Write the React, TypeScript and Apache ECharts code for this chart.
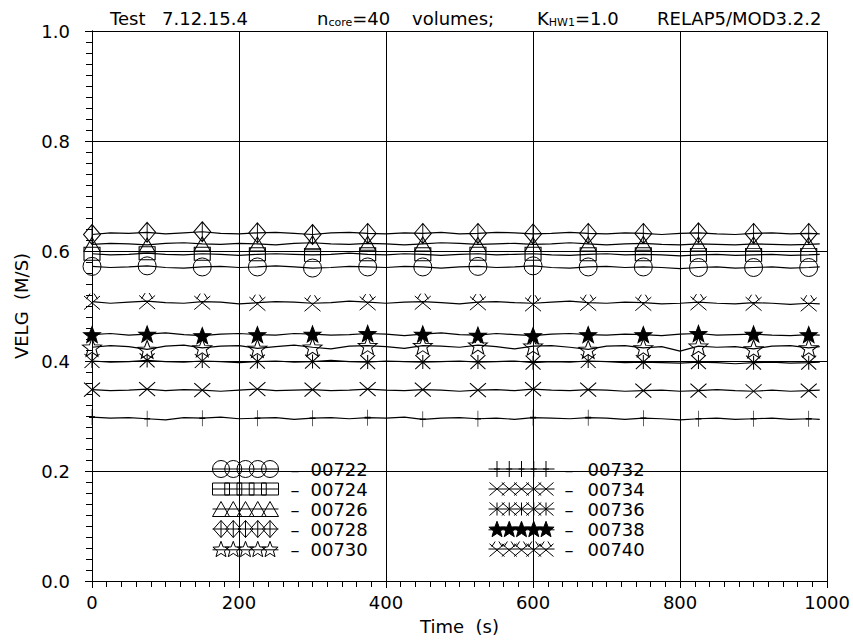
import React, { useEffect, useRef } from "react";
import * as echarts from "echarts";

// ---------- DATA ----------
const times = [0, 25, 50, 75, 100, 125, 150, 175, 200, 225, 250, 275, 300, 325, 350, 375, 400, 425, 450, 475, 500, 525, 550, 575, 600, 625, 650, 675, 700, 725, 750, 775, 800, 825, 850, 875, 900, 925, 950, 975, 990];

const seriesNames = ["00722", "00724", "00726", "00728", "00730", "00732", "00734", "00736", "00738", "00740"];

const v00722 = [
  0.572, 0.570, 0.571, 0.573, 0.570, 0.569, 0.571, 0.572, 0.570, 0.571,
  0.573, 0.571, 0.569, 0.570, 0.572, 0.571, 0.570, 0.572, 0.571, 0.569,
  0.571, 0.572, 0.570, 0.571, 0.573, 0.570, 0.569, 0.571, 0.572, 0.570,
  0.571, 0.570, 0.568, 0.570, 0.571, 0.569, 0.570, 0.571, 0.569, 0.570,
  0.571,
];
const v00724 = [
  0.595, 0.593, 0.594, 0.596, 0.594, 0.593, 0.595, 0.594, 0.592, 0.594,
  0.595, 0.594, 0.593, 0.594, 0.596, 0.594, 0.593, 0.595, 0.594, 0.592,
  0.594, 0.595, 0.593, 0.594, 0.595, 0.593, 0.592, 0.594, 0.595, 0.593,
  0.594, 0.593, 0.591, 0.593, 0.594, 0.592, 0.593, 0.594, 0.592, 0.593,
  0.594,
];
const v00726 = [
  0.612, 0.614, 0.613, 0.611, 0.614, 0.615, 0.613, 0.612, 0.614, 0.613,
  0.611, 0.614, 0.615, 0.613, 0.612, 0.614, 0.613, 0.611, 0.613, 0.615,
  0.614, 0.612, 0.613, 0.614, 0.612, 0.613, 0.615, 0.613, 0.611, 0.613,
  0.614, 0.612, 0.611, 0.613, 0.612, 0.611, 0.613, 0.612, 0.611, 0.612,
  0.613,
];
const v00728 = [
  0.630, 0.633, 0.632, 0.634, 0.631, 0.633, 0.635, 0.632, 0.631, 0.633,
  0.634, 0.632, 0.630, 0.633, 0.634, 0.632, 0.631, 0.633, 0.632, 0.634,
  0.631, 0.632, 0.634, 0.633, 0.631, 0.632, 0.634, 0.632, 0.631, 0.633,
  0.632, 0.630, 0.632, 0.633, 0.631, 0.630, 0.632, 0.633, 0.631, 0.632,
  0.631,
];
const v00730 = [
  0.425, 0.428, 0.426, 0.421, 0.427, 0.429, 0.424, 0.427, 0.428, 0.423,
  0.426, 0.429, 0.425, 0.422, 0.427, 0.428, 0.426, 0.423, 0.428, 0.427,
  0.425, 0.429, 0.426, 0.422, 0.427, 0.428, 0.425, 0.421, 0.427, 0.428,
  0.424, 0.426, 0.418, 0.427, 0.425, 0.426, 0.422, 0.427, 0.428, 0.424,
  0.426,
];
const v00732 = [
  0.298, 0.296, 0.297, 0.295, 0.293, 0.297, 0.296, 0.298, 0.295, 0.296,
  0.297, 0.294, 0.296, 0.297, 0.295, 0.297, 0.296, 0.298, 0.294, 0.296,
  0.297, 0.295, 0.296, 0.294, 0.297, 0.296, 0.295, 0.297, 0.296, 0.294,
  0.296, 0.295, 0.293, 0.295, 0.296, 0.294, 0.295, 0.296, 0.294, 0.295,
  0.294,
];
const v00734 = [
  0.348, 0.346, 0.347, 0.349, 0.346, 0.348, 0.347, 0.345, 0.347, 0.349,
  0.346, 0.347, 0.348, 0.346, 0.347, 0.349, 0.347, 0.346, 0.348, 0.347,
  0.345, 0.347, 0.348, 0.346, 0.349, 0.347, 0.346, 0.348, 0.347, 0.345,
  0.346, 0.347, 0.345, 0.346, 0.348, 0.346, 0.345, 0.347, 0.345, 0.346,
  0.347,
];
const v00736 = [
  0.400, 0.398, 0.399, 0.401, 0.399, 0.398, 0.400, 0.399, 0.397, 0.399,
  0.400, 0.398, 0.399, 0.401, 0.399, 0.398, 0.400, 0.399, 0.398, 0.399,
  0.400, 0.398, 0.399, 0.400, 0.397, 0.399, 0.398, 0.400, 0.399, 0.397,
  0.398, 0.397, 0.396, 0.398, 0.397, 0.395, 0.397, 0.398, 0.396, 0.397,
  0.398,
];
const v00738 = [
  0.448, 0.450, 0.447, 0.449, 0.451, 0.448, 0.446, 0.449, 0.450, 0.448,
  0.447, 0.450, 0.449, 0.447, 0.448, 0.450, 0.449, 0.446, 0.449, 0.451,
  0.448, 0.447, 0.450, 0.448, 0.446, 0.449, 0.450, 0.448, 0.447, 0.449,
  0.448, 0.446, 0.449, 0.450, 0.447, 0.448, 0.449, 0.447, 0.446, 0.448,
  0.447,
];
const v00740 = [
  0.508, 0.505, 0.507, 0.509, 0.506, 0.505, 0.508, 0.507, 0.504, 0.506,
  0.508, 0.507, 0.505, 0.506, 0.509, 0.507, 0.505, 0.507, 0.508, 0.506,
  0.504, 0.507, 0.508, 0.506, 0.505, 0.507, 0.509, 0.506, 0.505, 0.507,
  0.506, 0.504, 0.505, 0.507, 0.505, 0.504, 0.506, 0.505, 0.503, 0.505,
  0.504,
];

const seriesValues = [v00722, v00724, v00726, v00728, v00730, v00732, v00734, v00736, v00738, v00740];

const xTicks = [0, 200, 400, 600, 800, 1000];
const yTicks = [0, 0.2, 0.4, 0.6, 0.8, 1.0];

// ---------- STYLE / SYMBOLS ----------
const FONT = "DejaVu Sans";
const f = (n: number) => n.toFixed(2);

type Gen = (cx: number, cy: number, rx: number, ry: number) => string;

const gCircle: Gen = (cx, cy, rx, ry) =>
  `M${f(cx + rx)},${f(cy)}A${f(rx)},${f(ry)},0,1,1,${f(cx - rx)},${f(cy)}A${f(rx)},${f(ry)},0,1,1,${f(cx + rx)},${f(cy)}Z`;
const gRect: Gen = (cx, cy, rx, ry) =>
  `M${f(cx - rx)},${f(cy - ry)}L${f(cx + rx)},${f(cy - ry)}L${f(cx + rx)},${f(cy + ry)}L${f(cx - rx)},${f(cy + ry)}Z`;
const gTri: Gen = (cx, cy, rx, ry) =>
  `M${f(cx)},${f(cy - ry)}L${f(cx + rx)},${f(cy + ry)}L${f(cx - rx)},${f(cy + ry)}Z`;
const gDiamond: Gen = (cx, cy, rx, ry) =>
  `M${f(cx)},${f(cy - ry)}L${f(cx + rx)},${f(cy)}L${f(cx)},${f(cy + ry)}L${f(cx - rx)},${f(cy)}ZM${f(cx)},${f(cy - ry)}L${f(cx)},${f(cy + ry)}`;
const gStar: Gen = (cx, cy, rx, ry) => {
  let d = "";
  for (let i = 0; i < 10; i++) {
    const a = -Math.PI / 2 + (i * Math.PI) / 5;
    const r = i % 2 === 0 ? 1 : 0.42;
    d += (i === 0 ? "M" : "L") + f(cx + rx * r * Math.cos(a)) + "," + f(cy + ry * r * Math.sin(a));
  }
  return d + "Z";
};
const gPlus: Gen = (cx, cy, rx, ry) =>
  `M${f(cx)},${f(cy - ry)}L${f(cx)},${f(cy + ry)}M${f(cx - rx)},${f(cy)}L${f(cx + rx)},${f(cy)}`;
const gX: Gen = (cx, cy, rx, ry) =>
  `M${f(cx - rx)},${f(cy - ry)}L${f(cx + rx)},${f(cy + ry)}M${f(cx - rx)},${f(cy + ry)}L${f(cx + rx)},${f(cy - ry)}`;
const gAst: Gen = (cx, cy, rx, ry) =>
  gX(cx, cy, rx, ry) + `M${f(cx)},${f(cy - ry)}L${f(cx)},${f(cy + ry)}`;
const gXHat: Gen = (cx, cy, rx, ry) =>
  gX(cx, cy + ry * 0.15, rx, ry * 0.85) +
  `M${f(cx - rx * 0.7)},${f(cy - ry * 0.3)}L${f(cx - rx * 0.25)},${f(cy - ry)}M${f(cx + rx * 0.7)},${f(cy - ry * 0.3)}L${f(cx + rx * 0.25)},${f(cy - ry)}`;

interface SymDef { gen: Gen; size: [number, number]; leg: [number, number]; filled: boolean }
const symDefs: SymDef[] = [
  { gen: gCircle, size: [18, 18], leg: [8.5, 8.5], filled: false },
  { gen: gRect, size: [16, 13], leg: [8.5, 6], filled: false },
  { gen: gTri, size: [16, 14], leg: [8.5, 7.5], filled: false },
  { gen: gDiamond, size: [17, 20], leg: [7.5, 8.5], filled: false },
  { gen: gStar, size: [19, 18], leg: [8.5, 8.5], filled: false },
  { gen: gPlus, size: [6, 16], leg: [3, 8], filled: false },
  { gen: gX, size: [16, 14], leg: [7.5, 6.5], filled: false },
  { gen: gAst, size: [15, 14], leg: [7.5, 6.5], filled: false },
  { gen: gStar, size: [17, 16], leg: [8.5, 8.5], filled: true },
  { gen: gXHat, size: [16, 16], leg: [7.5, 7.5], filled: false },
];

const LEG_W = 66;
const LEG_H = 17;
const legendIcon = (d: SymDef) => {
  let p = `M0,${LEG_H / 2}L${LEG_W},${LEG_H / 2}`;
  const step = (LEG_W - 17) / 4;
  for (let i = 0; i < 5; i++) p += d.gen(8.5 + i * step, LEG_H / 2, d.leg[0], d.leg[1]);
  return "path://" + p;
};

export default function App() {
  const ref = useRef<HTMLDivElement>(null);

  useEffect(() => {
    document.body.style.margin = "0";
    const chart = echarts.init(ref.current!, null, { renderer: "svg" });

    const series = seriesNames.map((name, k) => {
      const def = symDefs[k];
      const sym = "path://" + def.gen(0, 0, 1, 1);
      return {
        name,
        type: "line",
        data: times.map((t, i) => [t, seriesValues[k][i]]),
        symbol: (_v: any, p: any) => (p.dataIndex % 3 === 0 ? sym : "none"),
        symbolSize: def.size,
        showAllSymbol: true,
        lineStyle: { color: "#000", width: 1.2 },
        itemStyle: { color: def.filled ? "#000" : "transparent", borderColor: "#000", borderWidth: 1 },
        emphasis: { disabled: true },
        silent: true,
        z: 3,
      };
    });

    const legendItem = (k: number) => ({
      name: seriesNames[k],
      icon: legendIcon(symDefs[k]),
      itemStyle: { color: symDefs[k].filled ? "#000" : "transparent", borderColor: "#000", borderWidth: 1 },
    });

    const titleStyle = { fontFamily: FONT, fontSize: 18, fontWeight: "normal" as const, color: "#000", lineHeight: 20 };
    const subRich = { s: { fontFamily: FONT, fontSize: 11, color: "#000", lineHeight: 10, verticalAlign: "bottom" } };
    const T = 8;

    const mainTicks = {
      axisLine: { show: true, lineStyle: { color: "#000", width: 1 } },
      axisTick: { show: true, inside: false, length: 7, lineStyle: { color: "#000" } },
      minorTick: { show: true, splitNumber: 10, length: 6, lineStyle: { color: "#000" } },
    };
    const mirrorTicks = {
      axisLine: { show: true, lineStyle: { color: "#000", width: 1 } },
      axisTick: { show: false, inside: true },
      minorTick: { show: true, splitNumber: 10, length: 3, lineStyle: { color: "#000" } },
      axisLabel: { show: false },
      splitLine: { show: false },
    };

    chart.setOption({
      animation: false,
      backgroundColor: "#fff",
      title: [
        { text: "Test", left: 110, top: T, padding: 0, textStyle: titleStyle },
        { text: "7.12.15.4", left: 162, top: T, padding: 0, textStyle: titleStyle },
        { text: "n{s|core}=40", left: 317, top: T, padding: 0, textStyle: { ...titleStyle, rich: subRich } },
        { text: "volumes;", left: 412, top: T, padding: 0, textStyle: titleStyle },
        { text: "K{s|HW1}=1.0", left: 537, top: T, padding: 0, textStyle: { ...titleStyle, rich: subRich } },
        { text: "RELAP5/MOD3.2.2", left: 657, top: T, padding: 0, textStyle: titleStyle },
      ],
      grid: { left: 92, right: 25, top: 31, bottom: 61, show: false },
      legend: [
        {
          data: [0, 1, 2, 3, 4].map(legendItem),
          orient: "vertical",
          left: 212,
          top: 460,
          itemWidth: LEG_W,
          itemHeight: LEG_H,
          itemGap: 2,
          padding: 0,
          selectedMode: false,
          formatter: (n: string) => `{d|–}{v|${n}}`,
          textStyle: {
            fontFamily: FONT,
            fontSize: 18,
            color: "#000",
            rich: {
              d: { fontFamily: FONT, fontSize: 18, color: "#000", padding: [0, 0, 0, 7], width: 20 },
              v: { fontFamily: FONT, fontSize: 18, color: "#000" },
            },
          },
        },
        {
          data: [5, 6, 7, 8, 9].map(legendItem),
          orient: "vertical",
          left: 488,
          top: 460,
          itemWidth: LEG_W,
          itemHeight: LEG_H,
          itemGap: 2,
          padding: 0,
          selectedMode: false,
          formatter: (n: string) => `{d|–}{v|${n}}`,
          textStyle: {
            fontFamily: FONT,
            fontSize: 18,
            color: "#000",
            rich: {
              d: { fontFamily: FONT, fontSize: 18, color: "#000", padding: [0, 0, 0, 5], width: 23 },
              v: { fontFamily: FONT, fontSize: 18, color: "#000" },
            },
          },
        },
      ],
      xAxis: [
        {
          type: "value",
          position: "bottom",
          min: xTicks[0],
          max: xTicks[xTicks.length - 1],
          interval: xTicks[1] - xTicks[0],
          ...mainTicks,
          axisLabel: { fontFamily: FONT, fontSize: 18, color: "#000", margin: 12, formatter: (v: number) => String(v) },
          splitLine: { show: true, lineStyle: { color: "#000", width: 1 } },
          name: "Time  (s)",
          nameLocation: "middle",
          nameGap: 36,
          nameTextStyle: { fontFamily: FONT, fontSize: 18, color: "#000" },
        },
        {
          type: "value",
          position: "top",
          min: xTicks[0],
          max: xTicks[xTicks.length - 1],
          interval: xTicks[1] - xTicks[0],
          ...mirrorTicks,
        },
      ],
      yAxis: [
        {
          type: "value",
          position: "left",
          min: yTicks[0],
          max: yTicks[yTicks.length - 1],
          interval: yTicks[1] - yTicks[0],
          ...mainTicks,
          axisLabel: { fontFamily: FONT, fontSize: 18, color: "#000", margin: 22, formatter: (v: number) => v.toFixed(1) },
          splitLine: { show: true, lineStyle: { color: "#000", width: 1 } },
          name: "VELG  (M/S)",
          nameLocation: "middle",
          nameGap: 58,
          nameTextStyle: { fontFamily: FONT, fontSize: 18, color: "#000" },
        },
        {
          type: "value",
          position: "right",
          min: yTicks[0],
          max: yTicks[yTicks.length - 1],
          interval: yTicks[1] - yTicks[0],
          ...mirrorTicks,
        },
      ],
      series,
    });

    return () => chart.dispose();
  }, []);

  return <div ref={ref} style={{ width: 853, height: 642 }} />;
}
